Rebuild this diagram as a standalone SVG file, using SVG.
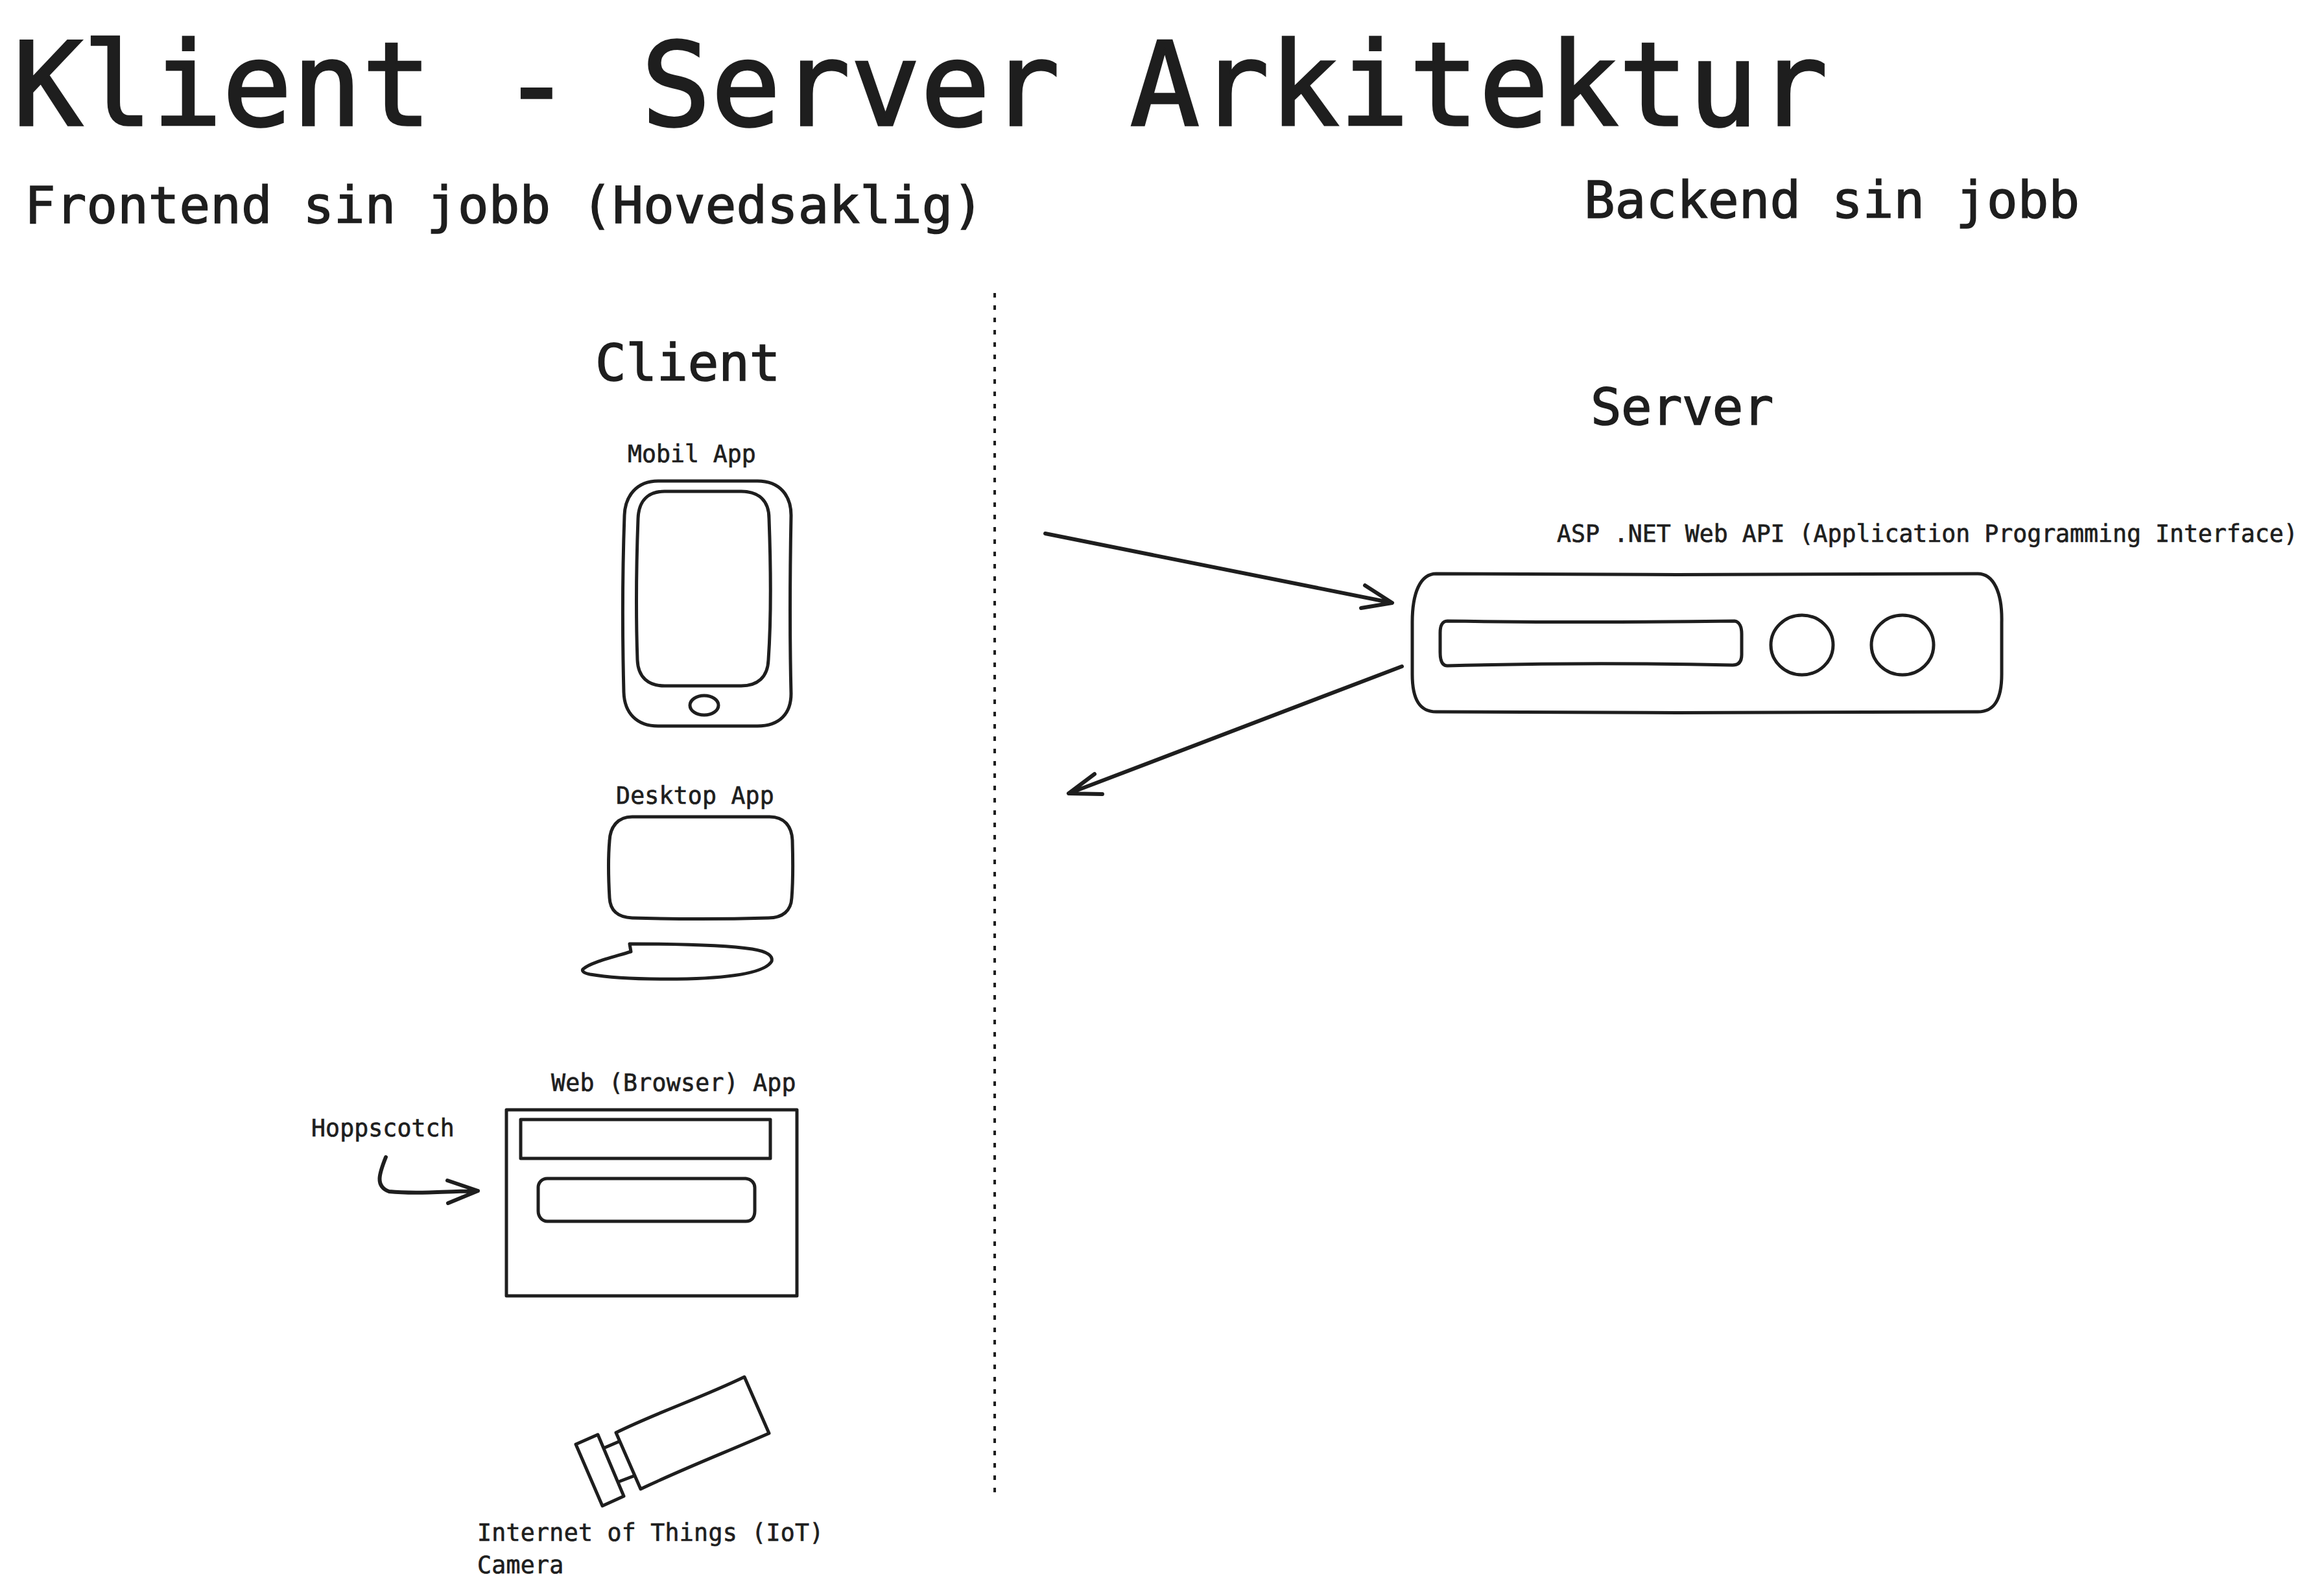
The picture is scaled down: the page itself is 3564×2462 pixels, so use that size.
<svg xmlns="http://www.w3.org/2000/svg" width="3564" height="2462" viewBox="0 0 3564 2462">
<style>
text{font-family:"DejaVu Sans Mono","Liberation Mono",monospace;fill:#1e1e1e;stroke:#1e1e1e}
.t{font-size:178px;stroke-width:3.5}.h{font-size:79px;stroke-width:1.6}.l{font-size:36.5px;stroke-width:.7}
.s{fill:none;stroke:#1e1e1e;stroke-width:5;stroke-linecap:round;stroke-linejoin:round}
.b{stroke-width:6}
</style>
<rect width="3564" height="2462" fill="#fff"/>
<g id="title"><text class="t" x="20" y="193" letter-spacing=".5">Klient - Server Arkitektur</text></g>
<g id="frontend-heading"><text class="h" x="38" y="344" letter-spacing=".15">Frontend sin jobb (Hovedsaklig)</text></g>
<g id="backend-heading"><text class="h" x="2443" y="336" letter-spacing=".2">Backend sin jobb</text></g>
<g id="client-heading"><text class="h" x="918" y="587">Client</text></g>
<g id="server-heading"><text class="h" x="2453" y="655" letter-spacing="-.6">Server</text></g>
<g id="divider"><path d="M1534 452V2302" fill="none" stroke="#1e1e1e" stroke-width="4" stroke-dasharray="7 12"/></g>
<g id="mobile-app">
<text class="l" x="968" y="713">Mobil App</text>
<path class="s" d="M1015 742H1168C1203 742 1220 765 1220 795C1218 900 1218 990 1220 1070C1220 1100 1203 1120 1168 1120H1015C982 1120 963 1100 962 1068C960 990 960 880 963 795C964 765 982 742 1015 742Z"/>
<path class="s" d="M1025 758H1143C1170 758 1186 772 1186 800C1189 880 1189 960 1185 1018C1184 1045 1168 1058 1143 1058H1025C1000 1058 984 1045 983 1018C981 960 981 880 984 800C985 772 1000 758 1025 758Z"/>
<ellipse class="s" cx="1086" cy="1088" rx="22" ry="15"/>
</g>
<g id="desktop-app">
<text class="l" x="950" y="1240" letter-spacing=".2">Desktop App</text>
<path class="s" d="M975 1260H1187C1209 1260 1221 1274 1222 1296C1223 1330 1223 1360 1221 1385C1220 1405 1207 1416 1185 1416C1120 1418 1040 1418 975 1416C953 1415 941 1405 940 1385C938 1350 938 1320 940 1297C941 1275 953 1260 975 1260Z"/>
<path class="s" d="M971 1456C1050 1456 1120 1458 1160 1464C1185 1468 1192 1475 1190 1483C1180 1500 1130 1508 1060 1510C1000 1511 950 1510 910 1503C900 1501 897 1498 899 1495C910 1485 940 1478 973 1468Z"/>
</g>
<g id="web-app">
<text class="l" x="850" y="1683" letter-spacing=".25">Web (Browser) App</text>
<path class="s" d="M781 1712H1229V1999H781Z"/>
<path class="s" d="M803 1727H1188V1787H803Z"/>
<path class="s" d="M844 1818H1150C1159 1819 1164 1825 1164 1832V1868C1164 1877 1160 1884 1150 1884H844C836 1884 830 1877 830 1868V1832C830 1824 836 1818 844 1818Z"/>
</g>
<g id="hoppscotch"><text class="l" x="480" y="1753" letter-spacing=".1">Hoppscotch</text></g>
<g id="iot-camera">
<path class="s" d="M950 2210C1015 2178 1080 2157 1148 2124L1186 2211C1120 2240 1055 2265 988 2297Z"/>
<path class="s" d="M888 2228L922 2213L962 2308L929 2323Z"/>
<path class="s" d="M933 2233L954 2224M956 2285L977 2277"/>
<text class="l" x="736" y="2377" letter-spacing=".3">Internet of Things (IoT)</text>
<text class="l" x="736" y="2427" letter-spacing=".3">Camera</text>
</g>
<g id="server">
<text class="l" x="2401" y="836">ASP .NET Web API (Application Programming Interface)</text>
<path class="s" d="M2215 885C2480 887 2800 887 3050 885C3075 885 3088 915 3087 960V1040C3087 1080 3075 1098 3050 1098C2800 1100 2480 1100 2215 1098C2190 1098 2178 1080 2178 1040V960C2178 915 2190 885 2215 885Z"/>
<path class="s" d="M2232 958C2380 960 2530 960 2675 958C2683 959 2686 968 2686 978V1010C2686 1020 2682 1026 2672 1026C2530 1023 2380 1023 2232 1027C2224 1027 2221 1018 2221 1006V976C2221 966 2224 958 2232 958Z"/>
<ellipse class="s" cx="2779" cy="995" rx="48" ry="46"/>
<ellipse class="s" cx="2934" cy="995" rx="48" ry="46"/>
</g>
<g id="connectors">
<path class="s b" d="M1612 823L2147 930M2105 903L2147 930L2099 938"/>
<path class="s b" d="M2162 1028L1648 1224M1688 1194L1648 1224L1700 1225"/>
<path class="s b" d="M595 1785C585 1810 578 1830 600 1838C640 1842 690 1838 737 1837M690 1821L737 1837L691 1856"/>
</g>
</svg>
